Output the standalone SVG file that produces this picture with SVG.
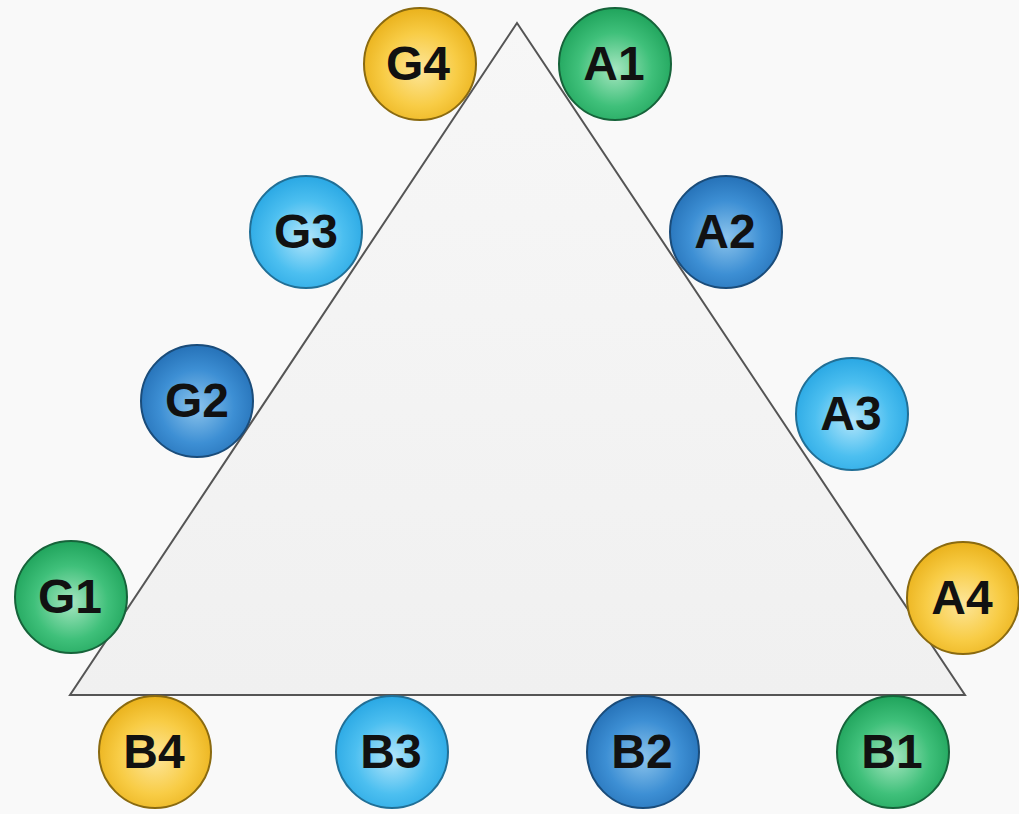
<svg xmlns="http://www.w3.org/2000/svg" width="1019" height="814" viewBox="0 0 1019 814">
<defs>
<radialGradient id="gGold" cx="50%" cy="55%" r="55%"><stop offset="0" stop-color="#fde69a"/><stop offset="0.6" stop-color="#f8cc45"/><stop offset="1" stop-color="#eab21c"/></radialGradient>
<radialGradient id="gGreen" cx="50%" cy="55%" r="55%"><stop offset="0" stop-color="#a6e6c0"/><stop offset="0.6" stop-color="#3fc07a"/><stop offset="1" stop-color="#20a45c"/></radialGradient>
<radialGradient id="gDark" cx="50%" cy="55%" r="55%"><stop offset="0" stop-color="#8cc4ec"/><stop offset="0.6" stop-color="#3d8fd4"/><stop offset="1" stop-color="#2672b8"/></radialGradient>
<radialGradient id="gLight" cx="50%" cy="55%" r="55%"><stop offset="0" stop-color="#b4e6fb"/><stop offset="0.6" stop-color="#4cbff0"/><stop offset="1" stop-color="#2aa8e4"/></radialGradient>
<linearGradient id="tri" x1="0" y1="0" x2="0" y2="1"><stop offset="0" stop-color="#f7f7f7"/><stop offset="1" stop-color="#f0f0f0"/></linearGradient>
<style>
.c{stroke-width:2}
.gold{fill:url(#gGold);stroke:#8a6a10}
.green{fill:url(#gGreen);stroke:#16633a}
.dark{fill:url(#gDark);stroke:#1a4c7a}
.light{fill:url(#gLight);stroke:#216f96}
text{font-family:"Liberation Sans",Arial,sans-serif;font-weight:bold;font-size:48px;fill:#111;text-anchor:middle}
</style>
</defs>
<rect width="1019" height="814" fill="#f9f9f9"/>
<g id="connectors">
<polygon points="517,23 965,695 70,695" fill="url(#tri)" stroke="#555" stroke-width="2"/>
</g>
<g id="G4"><circle class="c gold" cx="420" cy="64" r="56"/><text x="418" y="80">G4</text></g>
<g id="A1"><circle class="c green" cx="615" cy="64" r="56"/><text x="614" y="80">A1</text></g>
<g id="G3"><circle class="c light" cx="306" cy="232" r="56"/><text x="306" y="248">G3</text></g>
<g id="A2"><circle class="c dark" cx="726" cy="232" r="56"/><text x="725" y="248">A2</text></g>
<g id="G2"><circle class="c dark" cx="197" cy="401" r="56"/><text x="197" y="417">G2</text></g>
<g id="A3"><circle class="c light" cx="852" cy="414" r="56"/><text x="851" y="430">A3</text></g>
<g id="G1"><circle class="c green" cx="71" cy="597" r="56"/><text x="70" y="613">G1</text></g>
<g id="A4"><circle class="c gold" cx="963" cy="598" r="56"/><text x="962" y="614">A4</text></g>
<g id="B4"><circle class="c gold" cx="155" cy="752" r="56"/><text x="154" y="768">B4</text></g>
<g id="B3"><circle class="c light" cx="392" cy="752" r="56"/><text x="391" y="768">B3</text></g>
<g id="B2"><circle class="c dark" cx="643" cy="752" r="56"/><text x="642" y="768">B2</text></g>
<g id="B1"><circle class="c green" cx="893" cy="752" r="56"/><text x="892" y="768">B1</text></g>
</svg>
